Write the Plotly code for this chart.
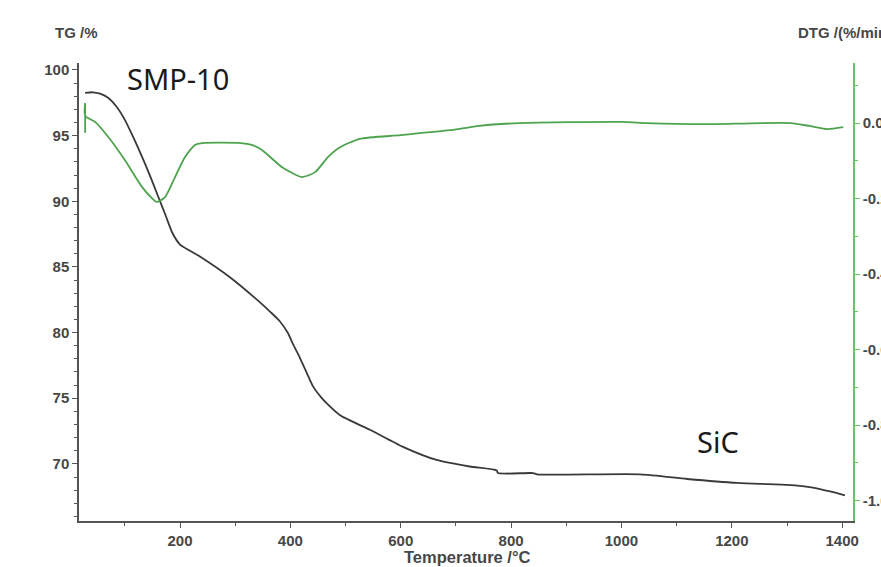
import plotly.graph_objects as go

# TG curve (black): temperature in °C, mass in %
tg_temp = [28, 42, 55, 69, 85, 100, 115, 131, 146, 160, 175, 186, 200, 236, 291, 345, 363, 380,
           395, 405, 417, 430, 441, 455, 466, 490, 544, 604, 665, 725, 774, 776, 840, 847, 1034,
           1119, 1210, 1300, 1347, 1378, 1405]
tg_mass = [98.25, 98.3, 98.2, 97.9, 97.2, 96.2, 94.9, 93.4, 91.9, 90.4, 88.8, 87.6, 86.7, 85.8,
           84.2, 82.3, 81.6, 80.9, 80.0, 79.1, 78.1, 76.9, 75.9, 75.1, 74.6, 73.7, 72.6, 71.3, 70.3,
           69.8, 69.5, 69.3, 69.3, 69.2, 69.2, 68.85, 68.55, 68.4, 68.2, 67.9, 67.6]

# DTG curve (green): temperature in °C, rate in %/min
dtg_temp = [28, 28, 28, 46, 70, 100, 131, 149, 158, 173, 191, 209, 227, 240, 310, 330, 349, 385,
            421, 445, 468, 490, 526, 599, 689, 739, 816, 1001, 1046, 1146, 1306, 1342, 1373, 1402]
dtg_rate = [-0.026, 0.053, 0.019, 0.003, -0.037, -0.098, -0.169, -0.199, -0.209, -0.196, -0.143,
            -0.090, -0.058, -0.053, -0.053, -0.058, -0.072, -0.117, -0.143, -0.130, -0.090, -0.064,
            -0.042, -0.032, -0.019, -0.008, 0.0, 0.003, 0.0, -0.003, 0.0, -0.008, -0.016, -0.011]

x_ticks = [200, 400, 600, 800, 1000, 1200, 1400]
tg_ticks = [70, 75, 80, 85, 90, 95, 100]
dtg_ticks = [0.0, -0.2, -0.4, -0.6, -0.8, -1.0]
dtg_labels = ["0.0", "-0.2", "-0.4", "-0.6", "-0.8", "-1.0"]

AX = "#555555"
TXT = "#474747"
GREEN_AX = "#6cc06c"
FONT = "Liberation Sans"
TICKFONT = dict(family=FONT, size=15, color=TXT, weight="bold")

W, H = 881, 567
L, R, T, B = 79, 28, 63, 46
PW, PH = W - L - R, H - T - B


def px(x):
    return (x - L) / PW


def py(y):
    return (H - B - y) / PH


fig = go.Figure()
fig.add_trace(go.Scatter(x=tg_temp, y=tg_mass, mode="lines",
                         line=dict(color="#3a3a3a", width=1.8, shape="spline", smoothing=0.6),
                         yaxis="y", showlegend=False))
fig.add_trace(go.Scatter(x=dtg_temp, y=dtg_rate, mode="lines",
                         line=dict(color="#4ea34e", width=1.8, shape="spline", smoothing=0.6),
                         yaxis="y2", showlegend=False))

fig.update_layout(
    width=W, height=H,
    margin=dict(l=L, r=R, t=T, b=B, autoexpand=False),
    paper_bgcolor="white", plot_bgcolor="white",
    font=dict(family=FONT, size=14, color=TXT),
    xaxis=dict(range=[16.9, 1419.6], tickvals=x_ticks, showline=True, linecolor=AX, linewidth=1.5,
               ticks="outside", ticklen=5, tickcolor=AX, showgrid=False, zeroline=False,
               automargin=False,
               minor=dict(dtick=100, tick0=0, ticks="outside", ticklen=3, tickcolor=AX),
               tickfont=TICKFONT),
    yaxis=dict(range=[65.65, 100.53], tickvals=tg_ticks, showline=True, linecolor=AX, linewidth=1.5,
               ticks="outside", ticklen=5, tickcolor=AX, showgrid=False, zeroline=False,
               automargin=False,
               minor=dict(dtick=1, tick0=0, ticks="outside", ticklen=3, tickcolor=AX),
               tickfont=TICKFONT),
    yaxis2=dict(range=[-1.054, 0.159], overlaying="y", side="right", tickvals=dtg_ticks,
                ticktext=dtg_labels, showline=True, linecolor=GREEN_AX, linewidth=1.5,
                ticks="outside", ticklen=5, tickcolor=GREEN_AX, showgrid=False, zeroline=False,
                automargin=False,
                minor=dict(dtick=0.1, tick0=0, ticks="outside", ticklen=3, tickcolor=GREEN_AX),
                tickfont=TICKFONT),
    annotations=[
        dict(text="TG /%", xref="paper", yref="paper", x=px(53), y=py(33),
             xanchor="left", yanchor="middle", showarrow=False,
             font=dict(family=FONT, size=15, color=TXT, weight="bold")),
        dict(text="DTG /(%/min)", xref="paper", yref="paper", x=px(796), y=py(33),
             xanchor="left", yanchor="middle", showarrow=False,
             font=dict(family=FONT, size=15, color=TXT, weight="bold")),
        dict(text="Temperature /°C", xref="paper", yref="paper", x=px(467), y=py(557),
             xanchor="center", yanchor="middle", showarrow=False,
             font=dict(family=FONT, size=16.5, color=TXT, weight="bold")),
        dict(text="SMP-10", xref="paper", yref="paper", x=px(125), y=py(78),
             xanchor="left", yanchor="middle", showarrow=False,
             font=dict(family="Noto Sans", size=29, color="#1a1a1a")),
        dict(text="SiC", xref="paper", yref="paper", x=px(695), y=py(441),
             xanchor="left", yanchor="middle", showarrow=False,
             font=dict(family="Noto Sans", size=29, color="#1a1a1a")),
    ],
)

fig.write_html("out.html")
